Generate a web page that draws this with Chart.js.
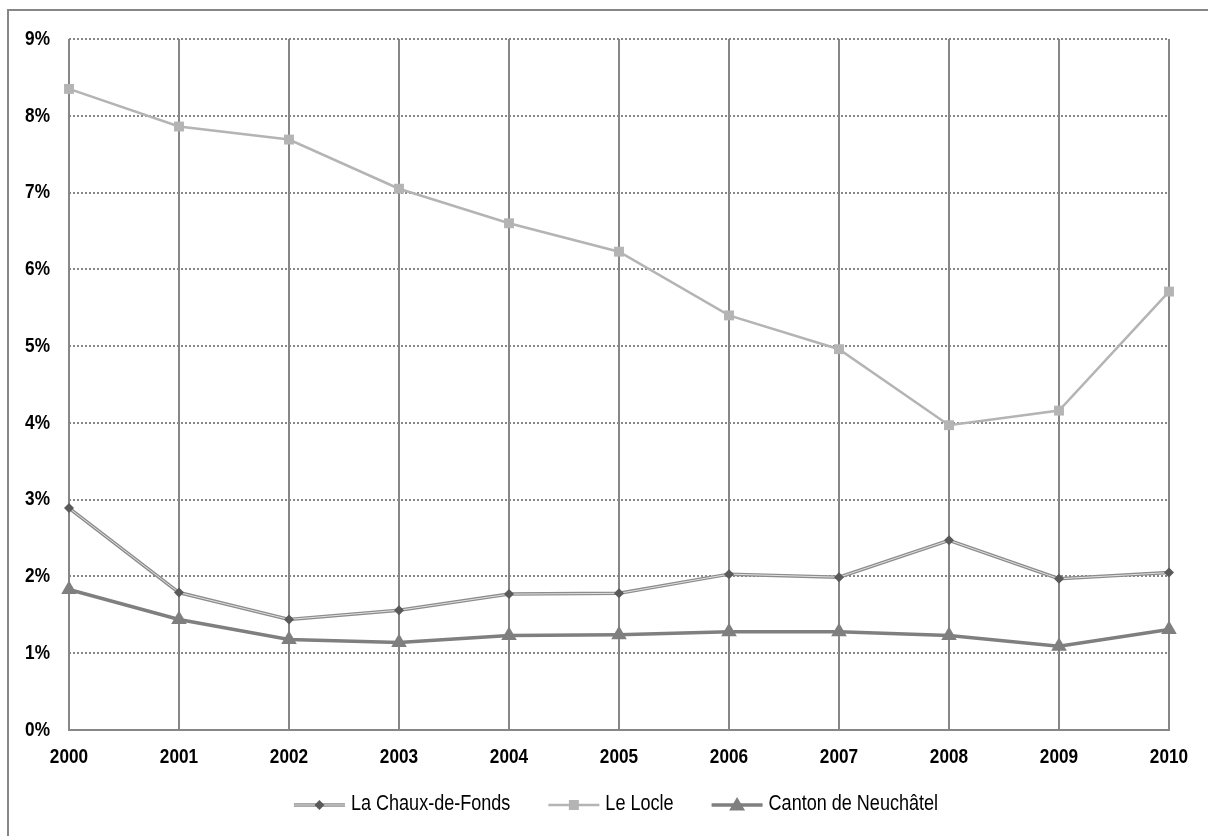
<!DOCTYPE html>
<html>
<head>
<meta charset="utf-8">
<script src="https://cdn.jsdelivr.net/npm/chart.js@4.4.1/dist/chart.umd.min.js"></script>
<style>
  html, body { margin: 0; padding: 0; background: #fff; overflow: hidden; }
  #frame { position: absolute; left: 7px; top: 9px; width: 1300px; height: 900px; border: 2px solid #878787; }
  #wrap { position: absolute; left: 0; top: 0; width: 1208px; height: 836px; }
</style>
</head>
<body>
<div id="frame"></div>
<div id="wrap"><canvas id="chart" width="1208" height="836"></canvas></div>
<script>
var years = ["2000", "2001", "2002", "2003", "2004", "2005", "2006", "2007", "2008", "2009", "2010"];
var chauxDeFonds = [2.89, 1.79, 1.44, 1.56, 1.77, 1.78, 2.03, 1.99, 2.47, 1.97, 2.05];
var leLocle = [8.35, 7.86, 7.69, 7.05, 6.60, 6.23, 5.40, 4.96, 3.97, 4.16, 5.71];
var canton = [1.83, 1.44, 1.18, 1.14, 1.23, 1.24, 1.28, 1.28, 1.23, 1.09, 1.31];
var yTicks = [0, 1, 2, 3, 4, 5, 6, 7, 8, 9];

var fontName = "'Liberation Sans', Arial, sans-serif";
var narrow = 0.82; // the original uses a narrow face, squeeze the text to match
var gridColor = "#878787";

// legend entries drawn by hand, line + marker like the original
var legendItems = [
  { label: "La Chaux-de-Fonds", line: "#8c8c8c", inner: "#e2e2e2", width: 3.5, marker: "diamond", fill: "#5a5a5a", size: 5 },
  { label: "Le Locle", line: "#b4b4b4", width: 2.5, marker: "square", fill: "#b4b4b4", size: 5 },
  { label: "Canton de Neuchâtel", line: "#7f7f7f", width: 3.5, marker: "triangle", fill: "#7f7f7f", size: 8 }
];

function drawMarker(ctx, kind, x, y, s, color) {
  ctx.fillStyle = color;
  ctx.beginPath();
  if (kind === "diamond") {
    ctx.moveTo(x, y - s); ctx.lineTo(x + s, y); ctx.lineTo(x, y + s); ctx.lineTo(x - s, y);
  } else if (kind === "square") {
    ctx.rect(x - s, y - s, 2 * s, 2 * s);
  } else {
    ctx.moveTo(x, y - s); ctx.lineTo(x + s, y + s * 0.7); ctx.lineTo(x - s, y + s * 0.7);
  }
  ctx.closePath();
  ctx.fill();
}

function narrowText(ctx, text, x, y, align) {
  ctx.save();
  ctx.translate(x, y);
  ctx.scale(narrow, 1);
  ctx.textAlign = align;
  ctx.textBaseline = "middle";
  ctx.fillText(text, 0, 0);
  ctx.restore();
}

var tickLabelPlugin = {
  id: "narrowTicks",
  afterDraw: function (chart) {
    var ctx = chart.ctx;
    var xs = chart.scales.x, ys = chart.scales.y;
    ctx.save();
    ctx.fillStyle = "#000";
    ctx.font = "bold 21px " + fontName;
    years.forEach(function (lab, i) {
      narrowText(ctx, lab, xs.getPixelForTick(i), chart.chartArea.bottom + 27, "center");
    });
    yTicks.forEach(function (v) {
      narrowText(ctx, v + "%", ys.right - 19, ys.getPixelForValue(v), "right");
    });
    ctx.restore();
  }
};

var legendPlugin = {
  id: "lineLegend",
  afterDraw: function (chart) {
    var ctx = chart.ctx;
    var lineLen = 51, gapText = 6, gapItem = 38;
    ctx.save();
    ctx.font = "22px " + fontName;
    var total = 0;
    legendItems.forEach(function (it, i) {
      it.tw = ctx.measureText(it.label).width * narrow;
      total += lineLen + gapText + it.tw + (i > 0 ? gapItem : 0);
    });
    var x = (chart.chartArea.left + chart.chartArea.right) / 2 - 3 - total / 2;
    var y = 805;
    legendItems.forEach(function (it) {
      ctx.lineWidth = it.width;
      ctx.strokeStyle = it.line;
      ctx.beginPath(); ctx.moveTo(x, y); ctx.lineTo(x + lineLen, y); ctx.stroke();
      if (it.inner) {
        ctx.lineWidth = 1;
        ctx.strokeStyle = it.inner;
        ctx.beginPath(); ctx.moveTo(x, y); ctx.lineTo(x + lineLen, y); ctx.stroke();
      }
      drawMarker(ctx, it.marker, x + lineLen / 2, y, it.size, it.fill);
      ctx.fillStyle = "#000";
      narrowText(ctx, it.label, x + lineLen + gapText, y - 1, "left");
      x += lineLen + gapText + it.tw + gapItem;
    });
    ctx.restore();
  }
};

var ctx = document.getElementById("chart");
var myChart = new Chart(ctx, {
  type: "line",
  plugins: [tickLabelPlugin, legendPlugin],
  data: {
    labels: years,
    datasets: [
      {
        label: "La Chaux-de-Fonds (inner)",
        data: chauxDeFonds,
        borderColor: "#e2e2e2",
        borderWidth: 1,
        pointStyle: "rectRot",
        pointRadius: 5,
        pointBackgroundColor: "#5a5a5a",
        pointBorderWidth: 0,
        order: 1
      },
      {
        label: "La Chaux-de-Fonds",
        data: chauxDeFonds,
        borderColor: "#8c8c8c",
        borderWidth: 3.5,
        pointRadius: 0,
        order: 2
      },
      {
        label: "Le Locle",
        data: leLocle,
        borderColor: "#b4b4b4",
        borderWidth: 2.5,
        pointStyle: "rect",
        pointRadius: 7,
        pointBackgroundColor: "#b4b4b4",
        pointBorderWidth: 0,
        order: 3
      },
      {
        label: "Canton de Neuchâtel",
        data: canton,
        borderColor: "#7f7f7f",
        borderWidth: 3.5,
        pointStyle: "triangle",
        pointRadius: 9,
        pointBackgroundColor: "#7f7f7f",
        pointBorderWidth: 0,
        order: 4
      }
    ]
  },
  options: {
    responsive: false,
    animation: false,
    layout: { padding: { left: 0, right: 39, top: 39, bottom: 66 } },
    plugins: {
      legend: { display: false },
      tooltip: { enabled: false }
    },
    scales: {
      x: {
        offset: false,
        afterFit: function (scale) { scale.height = 40; },
        grid: { color: gridColor, lineWidth: 2, drawTicks: false },
        border: { display: true, color: gridColor, width: 2 },
        ticks: { display: false, autoSkip: false }
      },
      y: {
        min: 0,
        max: 9,
        afterFit: function (scale) { scale.width = 69; },
        afterBuildTicks: function (scale) {
          scale.ticks = yTicks.map(function (v) { return { value: v }; });
        },
        grid: { color: gridColor, lineWidth: 2, drawTicks: false },
        border: { display: false, dash: [2, 2] },
        ticks: { display: false }
      }
    }
  }
});
</script>
</body>
</html>
